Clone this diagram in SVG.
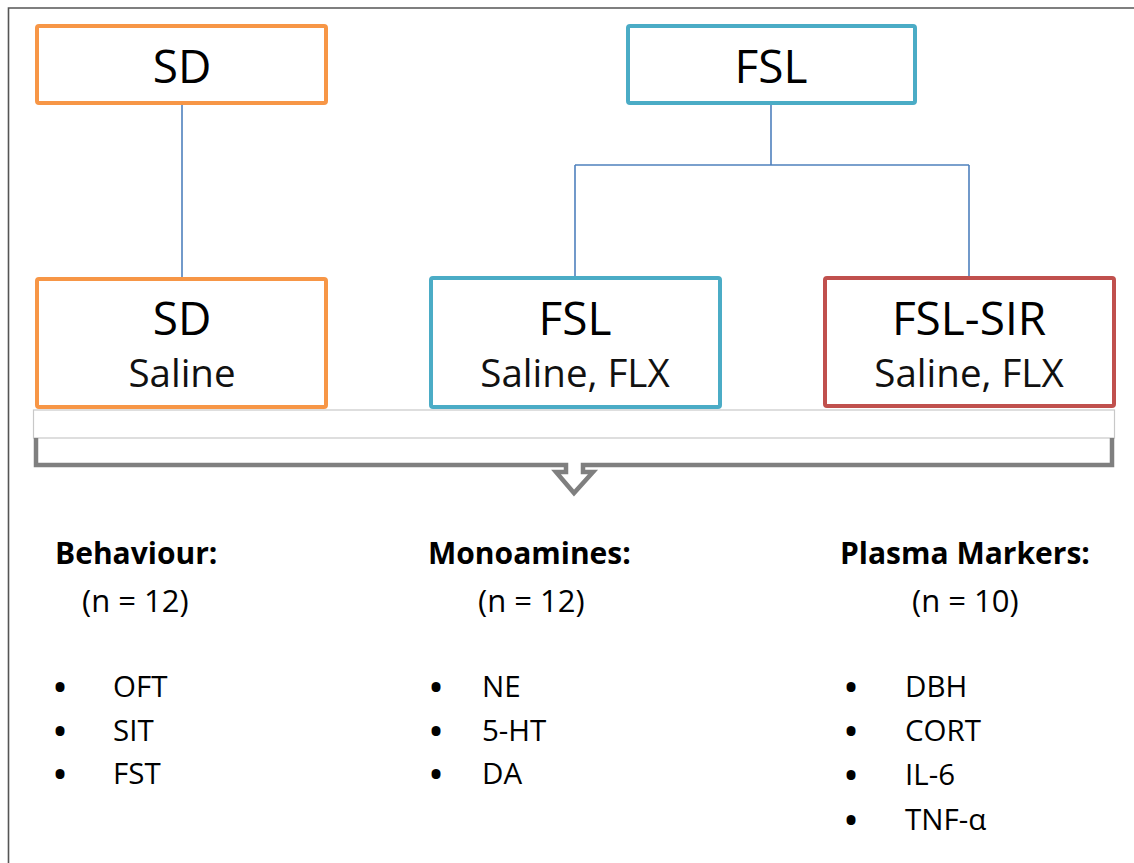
<svg xmlns="http://www.w3.org/2000/svg" width="1134" height="863" viewBox="0 0 1134 863">
  <style>
    .box { fill: #ffffff; stroke-width: 4; }
    .sd { stroke: #F79646; }
    .fsl { stroke: #4BACC6; }
    .sir { stroke: #C0504D; }
    .link { fill: none; stroke: #4F81BD; stroke-width: 1.6; }
    .title { font-family: "Open Sans", "Noto Sans", sans-serif; font-size: 46px; fill: #000; text-anchor: middle; }
    .sub { font-family: "Open Sans", "Noto Sans", sans-serif; font-size: 38.5px; fill: #111; text-anchor: middle; }
    .head { font-family: "Open Sans", "Noto Sans", sans-serif; font-size: 30px; font-weight: bold; fill: #000; }
    .txt { font-family: "Open Sans", "Noto Sans", sans-serif; font-size: 29.5px; fill: #000; }
    .n { font-family: "Open Sans", "Noto Sans", sans-serif; font-size: 31px; fill: #000; }
    .bul { font-family: "Open Sans", "Noto Sans", sans-serif; font-size: 32px; font-weight: bold; fill: #000; text-anchor: middle; }
  </style>

  <rect x="0" y="0" width="1134" height="863" fill="#ffffff"/>
  <!-- frame -->
  <path d="M8.5 863 V8 H1134" fill="none" stroke="#555" stroke-width="1.6"/>

  <!-- connectors -->
  <g id="connectors">
    <path class="link" d="M182 104 V277"/>
    <path class="link" d="M771 103 V165 M575 165 H969 M575 165 V277 M969 165 V277"/>
  </g>

  <g id="node-sd">
    <rect class="box sd" x="37" y="26" width="289" height="77" rx="2"/>
    <text class="title" x="182" y="83">SD</text>
  </g>
  <g id="node-fsl">
    <rect class="box fsl" x="628" y="26" width="287" height="77" rx="2"/>
    <text class="title" x="771" y="83">FSL</text>
  </g>
  <g id="node-sd-saline">
    <rect class="box sd" x="37" y="279" width="289" height="128" rx="2"/>
    <text class="title" x="182" y="335">SD</text>
    <text class="sub" x="182" y="387">Saline</text>
  </g>
  <g id="node-fsl-treat">
    <rect class="box fsl" x="431" y="278" width="289" height="129" rx="2"/>
    <text class="title" x="575" y="335">FSL</text>
    <text class="sub" x="575" y="387">Saline, FLX</text>
  </g>
  <g id="node-fsl-sir">
    <rect class="box sir" x="825" y="278" width="289" height="128" rx="2"/>
    <text class="title" x="969" y="335">FSL-SIR</text>
    <text class="sub" x="969" y="387">Saline, FLX</text>
  </g>

  <!-- grouping band and bracket arrow -->
  <g id="bracket">
    <rect x="33.5" y="410" width="1081" height="28" fill="#ffffff" stroke="#c8c8c8" stroke-width="1.2"/>
    <path d="M36 438 V465 H566 V472 H556 L574 493 L593 472 H583 V465 H1112 V438" fill="none" stroke="#7f7f7f" stroke-width="4.5" stroke-linejoin="miter"/>
  </g>

  <g id="behaviour">
    <text class="head" x="55" y="564">Behaviour:</text>
    <text class="n" x="82" y="612">(n = 12)</text>
    <text class="bul" x="60" y="699">•</text>
    <text class="txt" x="113" y="697">OFT</text>
    <text class="bul" x="60" y="743">•</text>
    <text class="txt" x="113" y="741">SIT</text>
    <text class="bul" x="60" y="786">•</text>
    <text class="txt" x="113" y="784">FST</text>
  </g>
  <g id="monoamines">
    <text class="head" x="428" y="564">Monoamines:</text>
    <text class="n" x="478" y="612">(n = 12)</text>
    <text class="bul" x="436" y="699">•</text>
    <text class="txt" x="482" y="697">NE</text>
    <text class="bul" x="436" y="743">•</text>
    <text class="txt" x="482" y="741">5-HT</text>
    <text class="bul" x="436" y="786">•</text>
    <text class="txt" x="482" y="784">DA</text>
  </g>
  <g id="plasma">
    <text class="head" x="840" y="564">Plasma Markers:</text>
    <text class="n" x="912" y="612">(n = 10)</text>
    <text class="bul" x="851" y="699">•</text>
    <text class="txt" x="905" y="697">DBH</text>
    <text class="bul" x="851" y="743">•</text>
    <text class="txt" x="905" y="741">CORT</text>
    <text class="bul" x="851" y="787">•</text>
    <text class="txt" x="905" y="785">IL-6</text>
    <text class="bul" x="851" y="832">•</text>
    <text class="txt" x="905" y="830">TNF-α</text>
  </g>
</svg>
